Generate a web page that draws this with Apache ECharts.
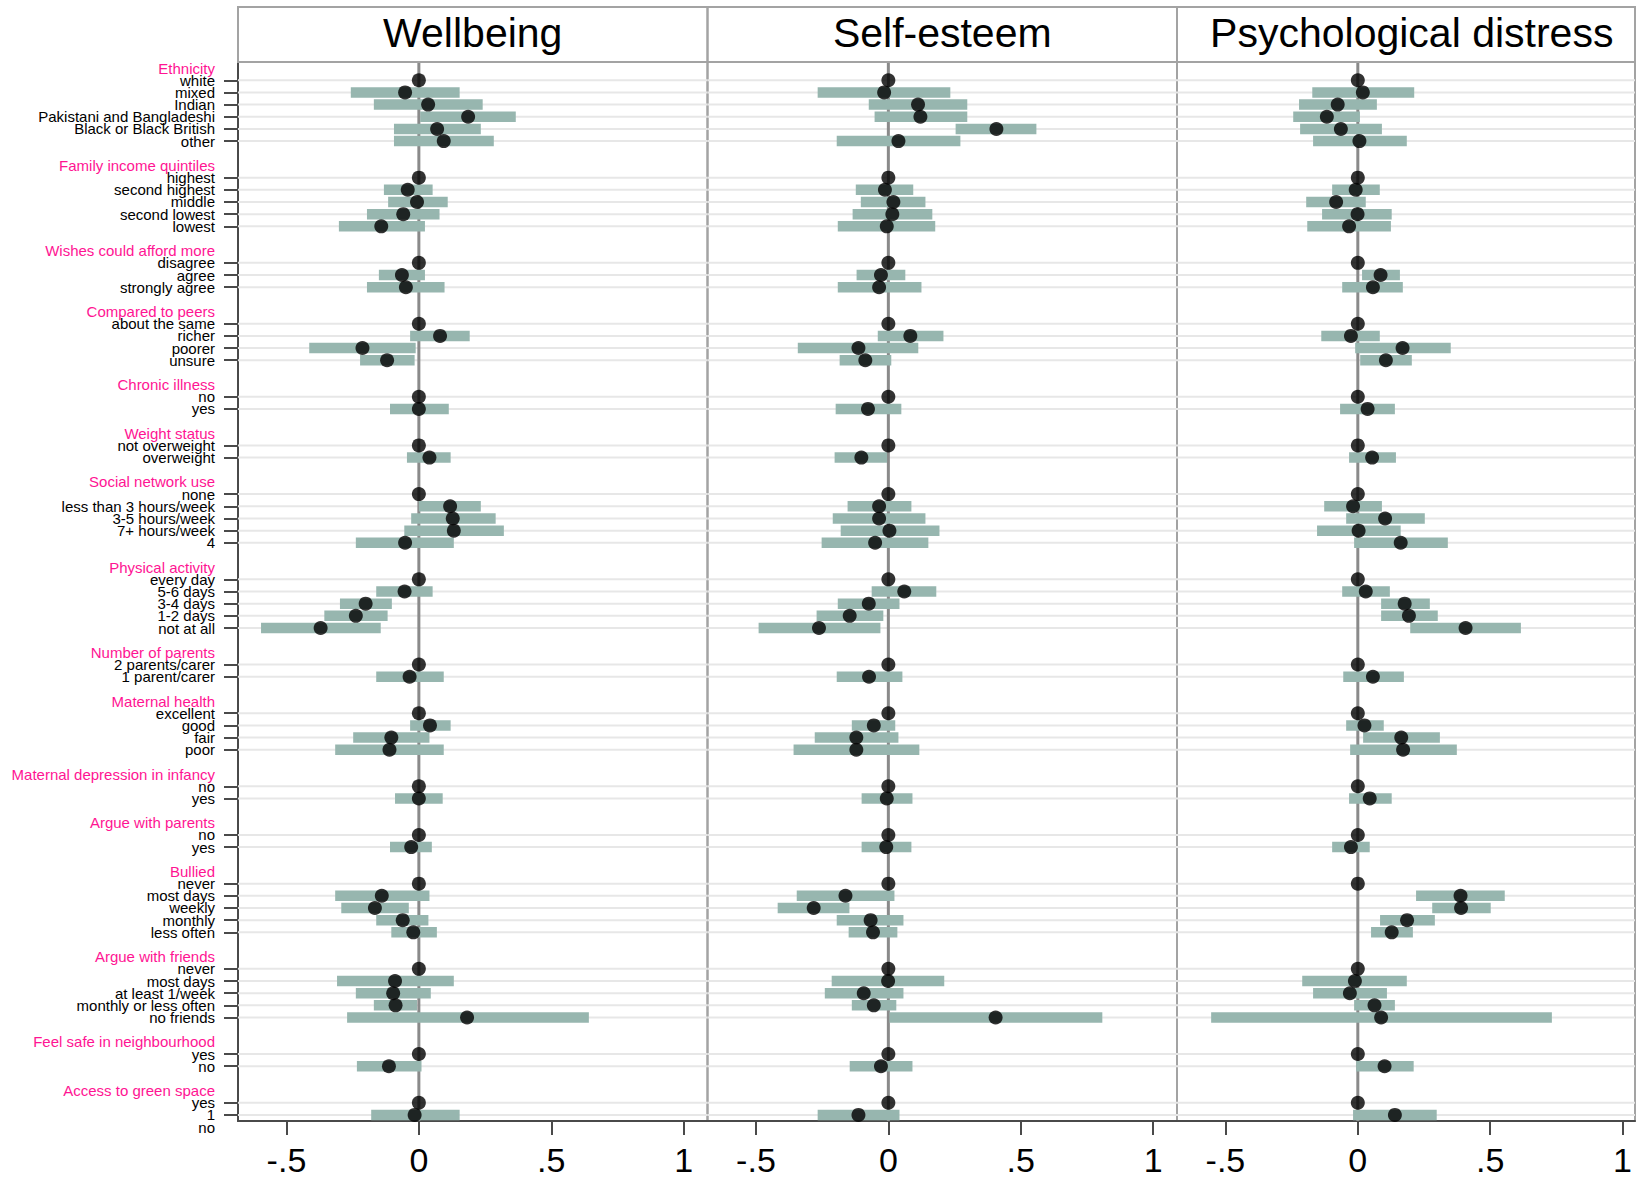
<!DOCTYPE html>
<html><head><meta charset="utf-8">
<script src="https://cdn.jsdelivr.net/npm/echarts@6/dist/echarts.min.js"></script>
<style>html,body{margin:0;padding:0;background:#fff}#c{width:1636px;height:1179px}</style>
</head><body><div id="c"></div>
<script>
const panelTitles = ["Wellbeing", "Self-esteem", "Psychological distress"];
const groupNames = ["Ethnicity","Family income quintiles","Wishes could afford more","Compared to peers","Chronic illness","Weight status","Social network use","Physical activity","Number of parents","Maternal health","Maternal depression in infancy","Argue with parents","Bullied","Argue with friends","Feel safe in neighbourhood","Access to green space"];
const groupItems = [
  ["white","mixed","Indian","Pakistani and Bangladeshi","Black or Black British","other"],
  ["highest","second highest","middle","second lowest","lowest"],
  ["disagree","agree","strongly agree"],
  ["about the same","richer","poorer","unsure"],
  ["no","yes"],
  ["not overweight","overweight"],
  ["none","less than 3 hours/week","3-5 hours/week","7+ hours/week","4"],
  ["every day","5-6 days","3-4 days","1-2 days","not at all"],
  ["2 parents/carer","1 parent/carer"],
  ["excellent","good","fair","poor"],
  ["no","yes"],
  ["no","yes"],
  ["never","most days","weekly","monthly","less often"],
  ["never","most days","at least 1/week","monthly or less often","no friends"],
  ["yes","no"],
  ["yes","1"]
];
const trailingLabel = "no";
const xTickValues = [-0.5, 0, 0.5, 1];
const xTickLabels = ["-.5", "0", ".5", "1"];

const wellbeingEst = [0,-0.052,0.035,0.186,0.069,0.094, 0,-0.042,-0.007,-0.059,-0.142, 0,-0.064,-0.049, 0,0.080,-0.213,-0.120, 0,0.000, 0,0.040, 0,0.118,0.128,0.132,-0.052, 0,-0.054,-0.201,-0.238,-0.371, 0,-0.035, 0,0.042,-0.104,-0.111, 0,0.000, 0,-0.029, 0,-0.140,-0.166,-0.061,-0.021, 0,-0.090,-0.097,-0.088,0.182, 0,-0.113, 0,-0.016];
const wellbeingLo = [null,-0.257,-0.170,0.005,-0.094,-0.094, null,-0.132,-0.116,-0.196,-0.302, null,-0.151,-0.196, null,-0.033,-0.414,-0.222, null,-0.109, null,-0.045, null,0.000,-0.029,-0.055,-0.238, null,-0.161,-0.298,-0.357,-0.596, null,-0.161, null,-0.033,-0.248,-0.316, null,-0.090, null,-0.109, null,-0.316,-0.293,-0.161,-0.104, null,-0.309,-0.238,-0.170,-0.271, null,-0.234, null,-0.180];
const wellbeingHi = [null,0.154,0.241,0.366,0.234,0.283, null,0.052,0.109,0.078,0.023, null,0.023,0.097, null,0.192,-0.012,-0.016, null,0.113, null,0.120, null,0.234,0.290,0.321,0.132, null,0.052,-0.102,-0.118,-0.144, null,0.094, null,0.120,0.040,0.094, null,0.090, null,0.049, null,0.040,-0.038,0.036,0.068, null,0.132,0.045,-0.007,0.642, null,0.010, null,0.154];

const selfEsteemEst = [0,-0.016,0.112,0.121,0.408,0.038, 0,-0.013,0.019,0.015,-0.006, 0,-0.028,-0.035, 0,0.083,-0.113,-0.087, 0,-0.077, 0,-0.102, 0,-0.035,-0.035,0.004,-0.050, 0,0.060,-0.074,-0.146,-0.262, 0,-0.073, 0,-0.055,-0.121,-0.121, 0,-0.006, 0,-0.008, 0,-0.162,-0.282,-0.067,-0.058, 0,-0.001,-0.093,-0.055,0.405, 0,-0.028, 0,-0.113];
const selfEsteemLo = [null,-0.267,-0.074,-0.052,0.254,-0.195, null,-0.123,-0.104,-0.135,-0.191, null,-0.120,-0.191, null,-0.040,-0.342,-0.184, null,-0.199, null,-0.203, null,-0.154,-0.210,-0.180,-0.252, null,-0.063,-0.191,-0.271,-0.490, null,-0.195, null,-0.138,-0.278,-0.358, null,-0.101, null,-0.101, null,-0.346,-0.418,-0.195,-0.150, null,-0.214,-0.240,-0.138,0.004, null,-0.146, null,-0.267];
const selfEsteemHi = [null,0.234,0.298,0.298,0.559,0.272, null,0.094,0.140,0.166,0.177, null,0.064,0.125, null,0.208,0.113,0.011, null,0.049, null,-0.005, null,0.087,0.140,0.193,0.151, null,0.181,0.042,-0.019,-0.030, null,0.053, null,0.026,0.038,0.117, null,0.091, null,0.087, null,0.023,-0.147,0.057,0.034, null,0.211,0.057,0.030,0.808, null,0.091, null,0.042];

const distressEst = [0,0.019,-0.076,-0.117,-0.064,0.006, 0,-0.008,-0.082,-0.001,-0.033, 0,0.086,0.057, 0,-0.026,0.169,0.106, 0,0.037, 0,0.054, 0,-0.018,0.103,0.003,0.162, 0,0.030,0.177,0.193,0.407, 0,0.057, 0,0.025,0.164,0.171, 0,0.045, 0,-0.026, 0,0.388,0.390,0.186,0.128, 0,-0.011,-0.030,0.063,0.088, 0,0.101, 0,0.140];
const distressLo = [null,-0.172,-0.222,-0.244,-0.218,-0.169, null,-0.097,-0.195,-0.135,-0.191, null,0.016,-0.059, null,-0.138,-0.010,0.009, null,-0.067, null,-0.033, null,-0.127,-0.044,-0.154,-0.014, null,-0.059,0.088,0.088,0.198, null,-0.055, null,-0.044,0.020,-0.029, null,-0.033, null,-0.097, null,0.220,0.281,0.084,0.050, null,-0.210,-0.169,-0.014,-0.554, null,-0.006, null,-0.018];
const distressHi = [null,0.213,0.072,0.008,0.091,0.185, null,0.083,0.030,0.128,0.125, null,0.159,0.170, null,0.083,0.351,0.204, null,0.140, null,0.144, null,0.091,0.253,0.162,0.340, null,0.121,0.272,0.302,0.616, null,0.174, null,0.098,0.310,0.374, null,0.128, null,0.045, null,0.555,0.502,0.291,0.208, null,0.185,0.110,0.140,0.733, null,0.211, null,0.298];

const panelEst = [wellbeingEst, selfEsteemEst, distressEst];
const panelLo = [wellbeingLo, selfEsteemLo, distressLo];
const panelHi = [wellbeingHi, selfEsteemHi, distressHi];

// ---- layout / style ----
const FONT = '"Liberation Sans", Arial, Helvetica, sans-serif';
const PANEL_LEFT = [238, 707.5, 1177];
const PANEL_W = [469.5, 469.5, 458];
const X_MIN = -0.683;
const X_MAX = [1.090, 1.090, 1.047];
const GRID_TOP = 62, GRID_H = 1059;
const AXIS_DARK = '#4a4a4a';
const FRAME = '#a3a3a3';

// categories (rows)
const categories = [], isHeader = [], isItem = [], itemRow = [];
groupNames.forEach((g, gi) => {
  categories.push(g); isHeader.push(true); isItem.push(false);
  groupItems[gi].forEach(it => { itemRow.push(categories.length); categories.push(it); isHeader.push(false); isItem.push(true); });
  if (gi < groupNames.length - 1) { categories.push(''); isHeader.push(false); isItem.push(false); }
});

const chart = echarts.init(document.getElementById('c'), null, {renderer: 'svg'});

const grids = [], xAxes = [], yAxes = [], series = [], graphics = [];
for (let i = 0; i < 3; i++) {
  grids.push({left: PANEL_LEFT[i], top: GRID_TOP, width: PANEL_W[i], height: GRID_H, show: true,
    borderColor: FRAME, borderWidth: 2, backgroundColor: 'transparent', containLabel: false, outerBoundsMode: 'none'});
  xAxes.push({type: 'value', gridIndex: i, min: X_MIN, max: X_MAX[i],
    axisLine: {show: true, onZero: false, lineStyle: {color: AXIS_DARK, width: 2}},
    axisTick: {show: true, customValues: xTickValues, length: 14, lineStyle: {color: AXIS_DARK, width: 2}},
    axisLabel: {customValues: xTickValues, fontSize: 34, margin: 22, color: '#000', fontFamily: FONT,
      formatter: v => { const k = xTickValues.findIndex(t => Math.abs(t - v) < 1e-9); return k >= 0 ? xTickLabels[k] : ''; }},
    splitLine: {show: false}});
  yAxes.push({type: 'category', gridIndex: i, inverse: true, data: categories, boundaryGap: true,
    axisLine: {show: i === 0, onZero: false, lineStyle: {color: AXIS_DARK, width: 2}},
    axisTick: {show: i === 0, interval: (idx) => isItem[idx], alignWithLabel: true, length: 14, lineStyle: {color: AXIS_DARK, width: 2}},
    axisLabel: {show: i === 0, interval: 0, margin: 23, fontSize: 15, color: '#000', fontFamily: FONT,
      formatter: (v, idx) => isHeader[idx] ? '{h|' + v + '}' : v,
      rich: {h: {color: '#ff1493', fontSize: 15, fontFamily: FONT}}},
    splitLine: {show: false}});

  // light horizontal guide lines at item rows
  series.push({type: 'custom', xAxisIndex: i, yAxisIndex: i, z: 1, silent: true,
    data: itemRow.map(r => [0, r]), encode: {x: 0, y: 1},
    renderItem: (params, api) => {
      const cs = params.coordSys; const p = api.coord([0, api.value(1)]);
      return {type: 'line', shape: {x1: cs.x, y1: p[1], x2: cs.x + cs.width, y2: p[1]},
        style: {stroke: '#e7e7e7', lineWidth: 2}};
    }});
  // zero reference line
  series.push({type: 'custom', xAxisIndex: i, yAxisIndex: i, z: 2, silent: true,
    data: [[0, 0]], encode: {x: 0, y: 1},
    renderItem: (params, api) => {
      const cs = params.coordSys; const p = api.coord([api.value(0), 0]);
      return {type: 'line', shape: {x1: p[0], y1: cs.y, x2: p[0], y2: cs.y + cs.height},
        style: {stroke: '#8a8a8a', lineWidth: 3}};
    }});
  // CI bars
  const ci = [];
  panelLo[i].forEach((lo, k) => { if (lo !== null) ci.push([lo, panelHi[i][k], itemRow[k]]); });
  series.push({type: 'custom', xAxisIndex: i, yAxisIndex: i, z: 3, silent: true,
    data: ci, encode: {x: [0, 1], y: 2},
    renderItem: (params, api) => {
      const a = api.coord([api.value(0), api.value(2)]);
      const b = api.coord([api.value(1), api.value(2)]);
      const h = 10.5;
      return {type: 'rect', shape: {x: a[0], y: a[1] - h / 2, width: b[0] - a[0], height: h},
        style: {fill: '#97b6af'}};
    }});
  // point estimates
  series.push({type: 'scatter', xAxisIndex: i, yAxisIndex: i, z: 4, silent: true,
    symbol: 'circle', symbolSize: 14, itemStyle: {color: '#000'},
    data: panelEst[i].map((e, k) => [e, itemRow[k]])});

  // header box and title
  graphics.push({type: 'rect', shape: {x: PANEL_LEFT[i], y: 7, width: PANEL_W[i], height: GRID_TOP - 7},
    style: {fill: 'none', stroke: FRAME, lineWidth: 2}, z: 10});
  graphics.push({type: 'text', x: PANEL_LEFT[i] + 234.75, y: 33,
    style: {text: panelTitles[i], fontSize: 41, fontFamily: FONT, fill: '#000', align: 'center', verticalAlign: 'middle'}, z: 11});
}
graphics.push({type: 'text', x: 215, y: GRID_TOP + GRID_H + 6,
  style: {text: trailingLabel, fontSize: 15, fontFamily: FONT, fill: '#000', align: 'right', verticalAlign: 'middle'}});

chart.setOption({
  animation: false,
  backgroundColor: '#fff',
  grid: grids, xAxis: xAxes, yAxis: yAxes, series: series,
  graphic: {elements: graphics}
});
</script></body></html>
